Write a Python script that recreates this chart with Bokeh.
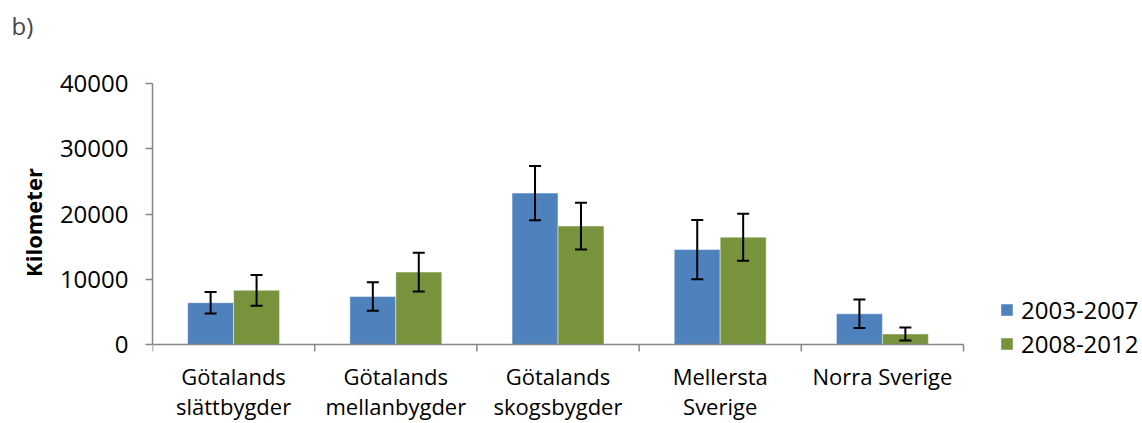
from bokeh.plotting import figure
from bokeh.models import (Range1d, FixedTicker, Whisker, ColumnDataSource, Legend,
                          LegendItem, TeeHead)
from bokeh.embed import file_html
from bokeh.resources import INLINE

categories = ["Götalands\nslättbygder", "Götalands\nmellanbygder", "Götalands\nskogsbygder",
              "Mellersta\nSverige", "Norra Sverige"]
series_names = ["2003-2007", "2008-2012"]
values_2003_2007 = [6400, 7350, 23200, 14550, 4700]
errors_2003_2007 = [1650, 2180, 4170, 4540, 2180]
values_2008_2012 = [8300, 11100, 18150, 16450, 1600]
errors_2008_2012 = [2350, 2980, 3590, 3600, 1000]
y_ticks = [0, 10000, 20000, 30000, 40000]
y_max = 40000

FONT = "Open Sans"
BLUE = "#4F81BD"
GREEN = "#77933C"
AXIS = "#868686"

# layout (pixels)
W, H = 1142, 423
LEFT, TOP = 152, 83
ZERO_Y = 344          # page y of value 0
FRAME_BOTTOM = 361    # frame extends a little below 0 so the legend fits
AXIS_W, AXIS_H = 811, ZERO_Y - TOP
TICK = 7
n = len(categories)
frame_w = W - LEFT
x_end = n * frame_w / AXIS_W
unit_per_px = y_max / AXIS_H
y_start = -(FRAME_BOTTOM - ZERO_Y) * unit_per_px
centers = [i + 0.5 for i in range(n)]
bw = 0.2833

p = figure(width=W, height=H, x_range=Range1d(0, x_end), y_range=Range1d(y_start, y_max),
           output_backend="svg", toolbar_location=None,
           min_border_left=LEFT, min_border_right=0, min_border_top=TOP,
           min_border_bottom=H - FRAME_BOTTOM)
p.outline_line_color = None
p.grid.visible = False
p.background_fill_color = "white"

src1 = ColumnDataSource(dict(x=[c - bw / 2 for c in centers], top=values_2003_2007,
                             upper=[v + e for v, e in zip(values_2003_2007, errors_2003_2007)],
                             lower=[v - e for v, e in zip(values_2003_2007, errors_2003_2007)]))
src2 = ColumnDataSource(dict(x=[c + bw / 2 for c in centers], top=values_2008_2012,
                             upper=[v + e for v, e in zip(values_2008_2012, errors_2008_2012)],
                             lower=[v - e for v, e in zip(values_2008_2012, errors_2008_2012)]))

r1 = p.vbar(x="x", top="top", bottom=0, width=bw, source=src1, fill_color=BLUE,
            line_color="white", line_alpha=0.45, line_width=1)
r2 = p.vbar(x="x", top="top", bottom=0, width=bw, source=src2, fill_color=GREEN,
            line_color="white", line_alpha=0.45, line_width=1)

for s in (src1, src2):
    w = Whisker(base="x", upper="upper", lower="lower", source=s, line_color="black",
                line_width=2, level="overlay",
                upper_head=TeeHead(size=12, line_width=2, line_color="black"),
                lower_head=TeeHead(size=12, line_width=2, line_color="black"))
    p.add_layout(w)

# category axis line at value 0 with ticks at the category boundaries
bounds = list(range(n + 1))
p.segment(x0=[0], y0=[0], x1=[n], y1=[0], line_color=AXIS, line_width=1.5)
p.segment(x0=bounds, y0=[0] * len(bounds), x1=bounds, y1=[-TICK * unit_per_px] * len(bounds),
          line_color=AXIS, line_width=1.5)

# x axis only carries the category labels
xa = p.xaxis[0]
xa.ticker = FixedTicker(ticks=centers, minor_ticks=[])
xa.major_label_overrides = {c: lab for c, lab in zip(centers, categories)}
xa.axis_line_color = None
xa.major_tick_line_color = None
xa.minor_tick_line_color = None
xa.major_tick_out = 0
xa.major_tick_in = 0
xa.minor_tick_out = 0
xa.minor_tick_in = 0
xa.major_label_text_font = FONT
xa.major_label_text_font_size = "22px"
xa.major_label_text_color = "black"
xa.major_label_text_line_height = 1.0
xa.major_label_standoff = -1

ya = p.yaxis[0]
ya.bounds = (0, y_max)
ya.ticker = FixedTicker(ticks=y_ticks, minor_ticks=[])
ya.major_tick_out = TICK
ya.major_tick_in = 0
ya.major_tick_line_color = AXIS
ya.major_tick_line_width = 1.5
ya.axis_line_color = AXIS
ya.axis_line_width = 1.5
ya.major_label_text_font = FONT
ya.major_label_text_font_size = "24px"
ya.major_label_text_color = "black"
ya.major_label_standoff = 17
ya.axis_label = "Kilometer"
ya.axis_label_text_font = FONT
ya.axis_label_text_font_size = "22px"
ya.axis_label_text_font_style = "bold"
ya.axis_label_text_color = "black"
ya.axis_label_standoff = 9

p.title.text = "b)\n"
p.title.text_font = FONT
p.title.text_font_size = "24px"
p.title.text_font_style = "normal"
p.title.text_line_height = 1.2
p.title.align = "left"
p.title.vertical_align = "top"
p.title.offset = -141
p.title.standoff = 0
p.title.padding = 0

legend = Legend(items=[LegendItem(label=series_names[0], renderers=[r1]),
                       LegendItem(label=series_names[1], renderers=[r2])],
                location=(847, 1), orientation="vertical")
legend.border_line_color = None
legend.background_fill_alpha = 0
legend.label_text_font = FONT
legend.label_text_font_size = "24px"
legend.label_text_color = "black"
legend.glyph_width = 15
legend.glyph_height = 15
legend.label_standoff = 7
legend.label_height = 22
legend.spacing = 1
legend.padding = 0
legend.margin = 0
p.add_layout(legend, "center")

open("out.html", "w").write(file_html(p, INLINE))
